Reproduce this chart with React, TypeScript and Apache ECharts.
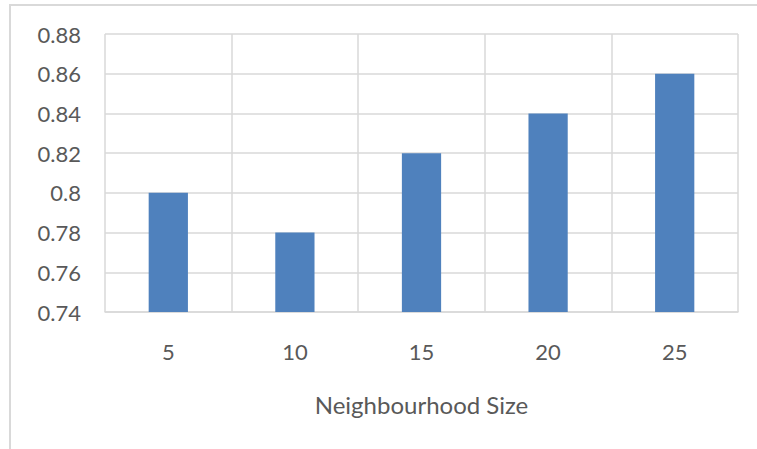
import React, { useEffect, useRef } from "react";
import * as echarts from "echarts";

const categories = ["5", "10", "15", "20", "25"];
const values = [0.8, 0.78, 0.82, 0.84, 0.86];
const yMin = 0.74;
const yMax = 0.88;
const yStep = 0.02;
const xAxisTitle = "Neighbourhood Size";

export default function App() {
  const ref = useRef<HTMLDivElement>(null);
  useEffect(() => {
    document.body.style.margin = "0";
    const chart = echarts.init(ref.current!, null, { renderer: "svg" });
    const font = "Lato, 'Liberation Sans', sans-serif";
    chart.setOption({
      animation: false,
      backgroundColor: "#ffffff",
      graphic: [
        {
          type: "rect",
          shape: { x: 10, y: 5, width: 800, height: 500 },
          style: { fill: "none", stroke: "#d9d9d9", lineWidth: 2 },
          silent: true,
        },
      ],
      grid: { left: 105, right: 19, top: 34, bottom: 137 },
      xAxis: {
        type: "category",
        data: categories,
        boundaryGap: true,
        axisLine: { show: true, lineStyle: { color: "#d9d9d9", width: 1.5 } },
        axisTick: { show: false },
        splitLine: { show: true, lineStyle: { color: "#d9d9d9", width: 1.5 } },
        axisLabel: { color: "#595959", fontFamily: font, fontSize: 22, margin: 28 },
        name: xAxisTitle,
        nameLocation: "middle",
        nameGap: 80,
        nameTextStyle: { color: "#595959", fontFamily: font, fontSize: 24 },
      },
      yAxis: {
        type: "value",
        min: yMin,
        max: yMax,
        interval: yStep,
        axisLine: { show: false },
        axisTick: { show: false },
        splitLine: { show: true, lineStyle: { color: "#d9d9d9", width: 1.5 } },
        axisLabel: {
          color: "#595959",
          fontFamily: font,
          fontSize: 22,
          margin: 24,
          formatter: (v: number) => String(parseFloat(v.toFixed(2))),
        },
      },
      series: [
        {
          type: "bar",
          data: values,
          barWidth: "31%",
          itemStyle: { color: "#4f81bd" },
        },
      ],
    });
    return () => chart.dispose();
  }, []);
  return <div ref={ref} style={{ width: 757, height: 449 }} />;
}
